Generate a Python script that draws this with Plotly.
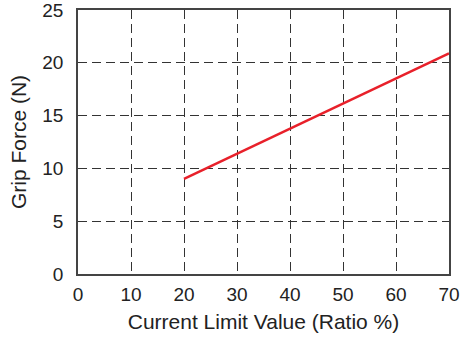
import plotly.graph_objects as go

current_limit = [20, 70]
grip_force = [9.0, 20.9]
x_ticks = [0, 10, 20, 30, 40, 50, 60, 70]
y_ticks = [0, 5, 10, 15, 20, 25]

FONT = "Liberation Sans, Arial, sans-serif"

fig = go.Figure()
fig.add_trace(go.Scatter(x=current_limit, y=grip_force, mode="lines",
                         line=dict(color="#e8202a", width=2.5), showlegend=False))

axis_common = dict(
    showline=True, linecolor="#444444", linewidth=1.8, mirror=True,
    showgrid=True, gridcolor="#333333", gridwidth=1.2, griddash="9px,5px",
    zeroline=False, ticks="", automargin=False, ticklabeloverflow="allow",
    tickfont=dict(family=FONT, size=19, color="#222222"),
    title_font=dict(family=FONT, size=21, color="#222222"),
)

fig.update_xaxes(range=[0, 70], tickvals=x_ticks, title_text="Current Limit Value (Ratio %)",
                 title_standoff=11, ticklabelstandoff=2, **axis_common)
fig.update_yaxes(range=[0, 25], tickvals=y_ticks, title_text="Grip Force (N)",
                 title_standoff=10, ticklabelstandoff=9, **axis_common)

fig.update_layout(width=464, height=340, margin=dict(l=78, r=15, t=10, b=66),
                  plot_bgcolor="white", paper_bgcolor="white")
fig.write_html("out.html", config={"displayModeBar": False},
               post_script="document.body.style.margin='0';")
